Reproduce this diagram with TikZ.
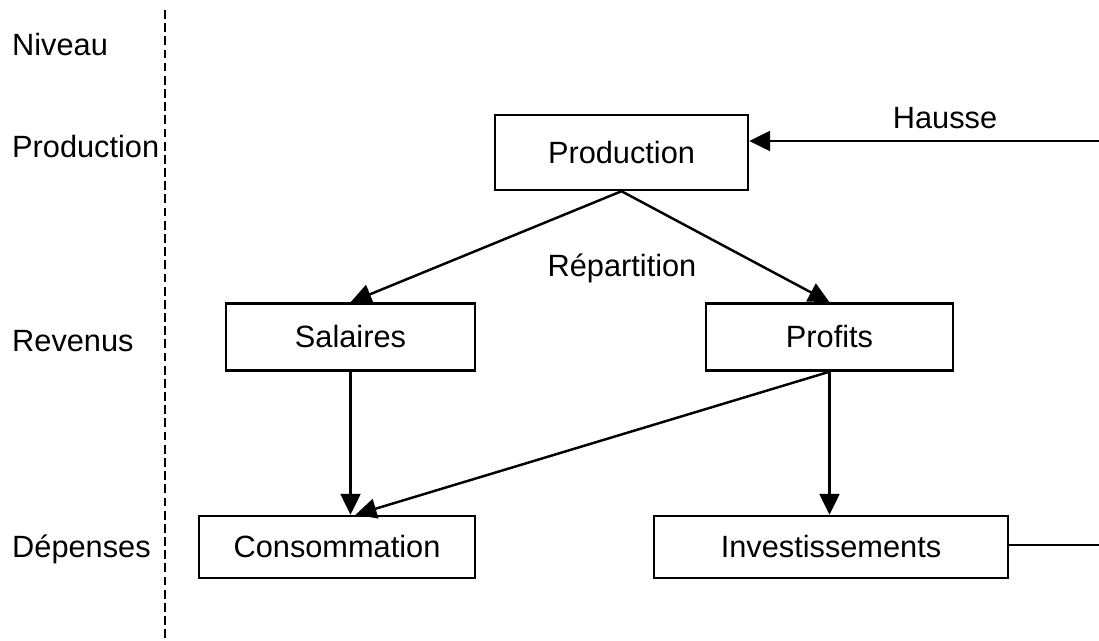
\documentclass[tikz,border=0pt]{standalone}
\usepackage{fontspec}
\setmainfont{Liberation Sans}
\usetikzlibrary{arrows.meta}

\begin{document}
\begin{tikzpicture}[x=0.02cm,y=-0.02cm,
  every node/.style={font=\fontsize{17.5}{20}\selectfont},
  boite/.style={draw,line width=1.4pt,inner sep=0pt},
  fleche/.style={line width=1.4pt,-{Triangle[length=4.2mm,width=4mm]}}]

  \useasboundingbox (0,0) rectangle (1099,641);
  \draw[line width=1.3pt,dash pattern=on 5pt off 2.5pt] (165,10) -- (165,641);

  % niveaux
  \node[anchor=west] (niv) at (6,45) {Niveau};
  \node[anchor=west] (nprod) at (6,147) {Production};
  \node[anchor=west] (nrev) at (6,341) {Revenus};
  \node[anchor=west] (ndep) at (6,549) {Dépenses};

  \node[boite,minimum width=5.06cm,minimum height=1.5cm] (prod) at (621.5,152.5) {Production};
  \node[boite,minimum width=4.98cm,minimum height=1.34cm] (sal) at (350.5,337) {Salaires};
  \node[boite,minimum width=4.94cm,minimum height=1.34cm] (prof) at (829.5,337) {Profits};
  \node[boite,minimum width=5.52cm,minimum height=1.24cm] (cons) at (337,547) {Consommation};
  \node[boite,minimum width=7.08cm,minimum height=1.24cm] (inv) at (831,547) {Investissements};

  \node (hausse) at (945,118) {Hausse};
  \node (rep) at (622,268) {Répartition};
  \coordinate (hr) at (1099,141);
  \coordinate (ir) at (1099,545);

  \draw[fleche] (hr) -- (prod.east |- hr);
  \draw[line width=1.4pt] (inv.east |- ir) -- (ir);
  \draw[fleche] (prod.south) -- (sal.north);
  \draw[fleche] (prod.south) -- (prof.north);
  \draw[fleche] (sal.south) -- (sal.south |- cons.north);
  \draw[fleche] (prof.south) -- ([xshift=0.1cm]sal.south |- cons.north);
  \draw[fleche] (prof.south) -- (prof.south |- inv.north);
\end{tikzpicture}
\end{document}
